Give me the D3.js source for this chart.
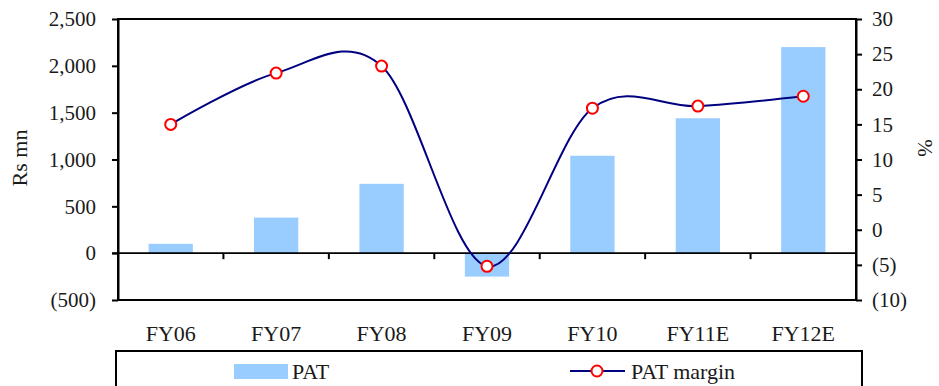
<!doctype html>
<html>
<head>
<script src="https://cdnjs.cloudflare.com/ajax/libs/d3/7.8.5/d3.min.js"></script>
</head>
<body style="margin:0">
<svg id="chart" width="939" height="386"></svg>
<script>
var years = ["FY06", "FY07", "FY08", "FY09", "FY10", "FY11E", "FY12E"];
var pat = [100, 380, 740, -250, 1040, 1440, 2200];
var patMargin = [15.0, 22.3, 23.3, -5.2, 17.3, 17.6, 19.0];
var leftTicks = [-500, 0, 500, 1000, 1500, 2000, 2500];
var rightTicks = [-10, -5, 0, 5, 10, 15, 20, 25, 30];

var svg = d3.select("#chart");
var L = 118, R = 856, T = 19, B = 300;
var serif = "'Liberation Serif'";
var ink = "#1a1a1a";

var x = d3.scaleBand().domain(years).range([L, R]).paddingInner(0.58).paddingOuter(0.29);
var xc = d3.scaleBand().domain(years).range([L, R]);
var yL = d3.scaleLinear().domain([-500, 2500]).range([B, T]);
var yR = d3.scaleLinear().domain([-10, 30]).range([B, T]);

var fmt = function(v) {
  var s = d3.format(",")(Math.abs(v));
  return v < 0 ? "(" + s + ")" : s;
};

function label(sel, size) {
  return sel.style("font-family", serif).attr("font-size", size).attr("fill", ink);
}

// bars
svg.append("g").selectAll("rect")
  .data(pat)
  .enter().append("rect")
  .attr("x", (d, i) => x(years[i]))
  .attr("width", x.bandwidth())
  .attr("y", d => d >= 0 ? yL(d) : yL(0))
  .attr("height", d => Math.abs(yL(d) - yL(0)))
  .attr("fill", "#99ccff");

// plot frame
svg.append("rect")
  .attr("x", L).attr("y", T).attr("width", R - L).attr("height", B - T)
  .attr("fill", "none").attr("stroke", "#000").attr("stroke-width", 2);

// left axis
var gl = svg.append("g")
  .attr("transform", "translate(" + L + ",0)")
  .call(d3.axisLeft(yL).tickValues(leftTicks).tickFormat(fmt).tickSize(6).tickSizeOuter(0).tickPadding(16));
gl.attr("font-family", null).attr("font-size", null);
gl.select(".domain").attr("stroke", "#000").attr("stroke-width", 2);
gl.selectAll(".tick line").attr("stroke", "#000").attr("stroke-width", 2);
label(gl.selectAll("text"), 21);

// right axis
var gr = svg.append("g")
  .attr("transform", "translate(" + R + ",0)")
  .call(d3.axisRight(yR).tickValues(rightTicks).tickFormat(fmt).tickSize(6).tickSizeOuter(0).tickPadding(10));
gr.attr("font-family", null).attr("font-size", null);
gr.select(".domain").attr("stroke", "#000").attr("stroke-width", 2);
gr.selectAll(".tick line").attr("stroke", "#000").attr("stroke-width", 2);
label(gr.selectAll("text"), 21);

// zero line with category ticks
svg.append("line")
  .attr("x1", L - 6).attr("x2", R)
  .attr("y1", yL(0)).attr("y2", yL(0))
  .attr("stroke", "#000").attr("stroke-width", 1.6);
svg.append("g").selectAll("line")
  .data(years.slice(1))
  .enter().append("line")
  .attr("x1", d => xc(d)).attr("x2", d => xc(d))
  .attr("y1", yL(0)).attr("y2", yL(0) + 6)
  .attr("stroke", "#000").attr("stroke-width", 2);

// category labels
label(svg.append("g").selectAll("text")
  .data(years)
  .enter().append("text")
  .attr("x", d => xc(d) + xc.bandwidth() / 2)
  .attr("y", 341)
  .attr("text-anchor", "middle"), 22)
  .text(d => d);

// margin line
var line = d3.line()
  .x((d, i) => xc(years[i]) + xc.bandwidth() / 2)
  .y(d => yR(d))
  .curve(d3.curveCardinal.tension(0));
svg.append("path")
  .datum(patMargin)
  .attr("d", line)
  .attr("fill", "none")
  .attr("stroke", "#000080")
  .attr("stroke-width", 2);
svg.append("g").selectAll("circle")
  .data(patMargin)
  .enter().append("circle")
  .attr("cx", (d, i) => xc(years[i]) + xc.bandwidth() / 2)
  .attr("cy", d => yR(d))
  .attr("r", 5.5)
  .attr("fill", "#fff")
  .attr("stroke", "#ff0000")
  .attr("stroke-width", 2);

// axis titles
label(svg.append("text")
  .attr("transform", "translate(27,158) rotate(-90)")
  .attr("text-anchor", "middle"), 22)
  .text("Rs mn");
label(svg.append("text")
  .attr("transform", "translate(918,148) rotate(90)")
  .attr("text-anchor", "middle"), 21)
  .text("%");

// legend
svg.append("rect")
  .attr("x", 116).attr("y", 351).attr("width", 746).attr("height", 60)
  .attr("fill", "none").attr("stroke", "#000").attr("stroke-width", 2);
svg.append("rect")
  .attr("x", 234).attr("y", 364).attr("width", 54).attr("height", 15)
  .attr("fill", "#99ccff");
label(svg.append("text").attr("x", 292).attr("y", 379), 22).text("PAT");
svg.append("line")
  .attr("x1", 570).attr("x2", 625).attr("y1", 371).attr("y2", 371)
  .attr("stroke", "#000080").attr("stroke-width", 2);
svg.append("circle")
  .attr("cx", 597).attr("cy", 371).attr("r", 5.5)
  .attr("fill", "#fff").attr("stroke", "#ff0000").attr("stroke-width", 2);
label(svg.append("text").attr("x", 631).attr("y", 379), 22).text("PAT margin");
</script>
</body>
</html>
